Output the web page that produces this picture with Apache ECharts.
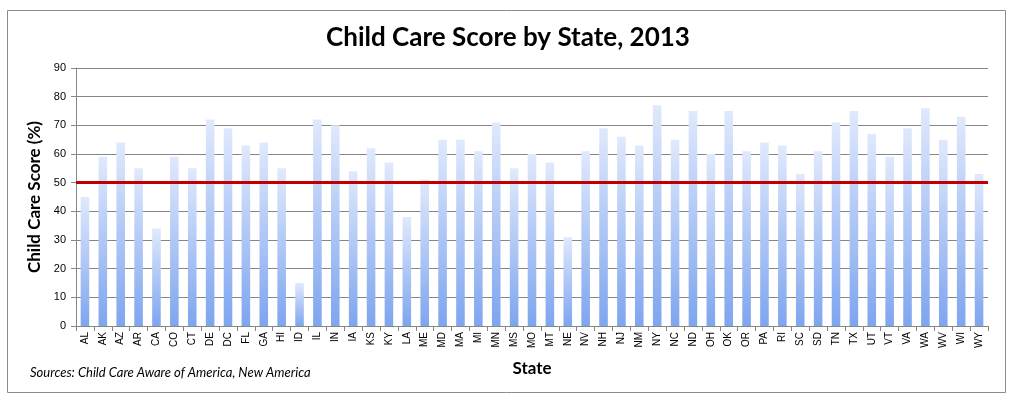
<!DOCTYPE html>
<html><head><meta charset="utf-8">
<script src="https://cdn.jsdelivr.net/npm/echarts@6/dist/echarts.min.js"></script>
<style>html,body{margin:0;padding:0;background:#fff}#c{width:1016px;height:404px}</style>
</head><body><div id="c"></div>
<script>
const states = ["AL","AK","AZ","AR","CA","CO","CT","DE","DC","FL","GA","HI","ID","IL","IN","IA","KS","KY","LA","ME","MD","MA","MI","MN","MS","MO","MT","NE","NV","NH","NJ","NM","NY","NC","ND","OH","OK","OR","PA","RI","SC","SD","TN","TX","UT","VT","VA","WA","WV","WI","WY"];
const scores = [45,59,64,55,34,59,55,72,69,63,64,55,15,72,70,54,62,57,38,51,65,65,61,71,55,60,57,31,61,69,66,63,77,65,75,60,75,61,64,63,53,61,71,75,67,59,69,76,65,73,53];
const threshold = 50;
const yTicks = {min:0, max:90, interval:10};

const chart = echarts.init(document.getElementById('c'), null, {renderer:'canvas'});
chart.setOption({
  animation:false,
  backgroundColor:'#fff',
  title:{text:'Child Care Score by State, 2013', left:'center', top:20,
    textStyle:{fontFamily:'Lato', fontWeight:'bold', fontSize:26, color:'#000'}},
  graphic:[
    {type:'rect', shape:{x:7.5,y:10.5,width:998,height:382}, style:{fill:'none', stroke:'#8c8c8c', lineWidth:1}, z:-1},
    {type:'text', left:30, top:366, style:{text:'Sources: Child Care Aware of America, New America', font:'italic 13px Lato', fill:'#000'}}
  ],
  grid:{left:76, right:28, top:68, bottom:78},
  xAxis:{type:'category', data:states, name:'State', nameLocation:'middle', nameGap:34,
    nameTextStyle:{fontFamily:'Lato', fontWeight:'bold', fontSize:17, color:'#000'},
    axisLine:{lineStyle:{color:'#868686'}},
    axisTick:{show:true, alignWithLabel:false, length:5, lineStyle:{color:'#868686'}},
    axisLabel:{rotate:90, fontFamily:'Liberation Sans', fontSize:10, color:'#000', margin:6, interval:0}},
  yAxis:{type:'value', min:yTicks.min, max:yTicks.max, interval:yTicks.interval,
    name:'Child Care Score (%)', nameLocation:'middle', nameGap:30,
    nameTextStyle:{fontFamily:'Lato', fontWeight:'bold', fontSize:17, color:'#000'},
    axisLine:{show:true, lineStyle:{color:'#868686'}},
    axisTick:{show:true, length:5, lineStyle:{color:'#868686'}},
    axisLabel:{fontFamily:'Liberation Sans', fontSize:11, color:'#000', margin:10},
    splitLine:{lineStyle:{color:'#868686', width:1}}},
  series:[{type:'bar', data:scores, barWidth:'48%',
    itemStyle:{color:new echarts.graphic.LinearGradient(0,0,0,1,[
      {offset:0,color:'#e0e9fc'},{offset:1,color:'#7ea5ef'}])},
    markLine:{silent:true, symbol:'none', label:{show:false},
      lineStyle:{color:'#c00000', width:3, type:'solid'},
      data:[{yAxis:threshold}]}
  }]
});
</script></body></html>
